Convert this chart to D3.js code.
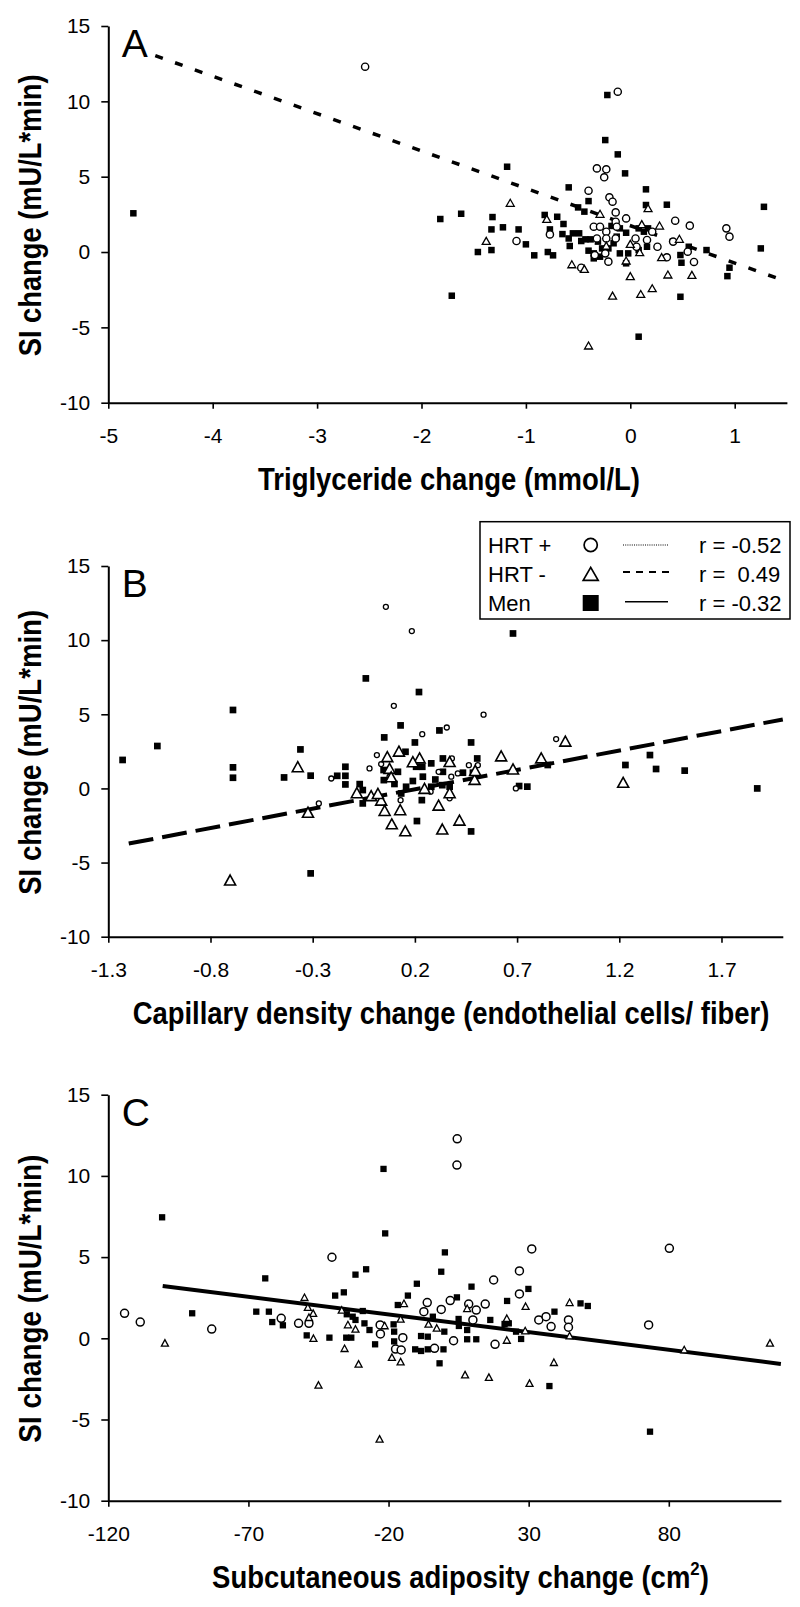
<!DOCTYPE html>
<html><head><meta charset="utf-8">
<script src="https://cdn.jsdelivr.net/npm/d3@7"></script>
<style>
body{margin:0;background:#fff}
svg{display:block}
text{font-family:"Liberation Sans",Arial,Helvetica,sans-serif;fill:#000}
</style>
</head><body>
<svg id="chart" width="800" height="1607"></svg>
<script>
// ---------------- DATA ----------------
const yTicks = [15, 10, 5, 0, -5, -10];
const aXTicks = [-5, -4, -3, -2, -1, 0, 1];
const bXTicks = [-1.3, -0.8, -0.3, 0.2, 0.7, 1.2, 1.7];
const cXTicks = [-120, -70, -20, 30, 80];

const yTitle = "SI change (mU/L*min)";
const aXTitle = "Triglyceride change (mmol/L)";
const bXTitle = "Capillary density change (endothelial cells/ fiber)";
const cXTitle = "Subcutaneous adiposity change (cm";

const legendLabels = ["HRT +", "HRT -", "Men"];
const legendR = ["r = -0.52", "r =\u00a0 0.49", "r = -0.32"];

// Panel A: triglyceride change vs SI change
const aMen = [[-4.76,2.57],[-1.82,2.19],[-1.62,2.54],[-1.71,-2.9],[-1.46,0.0],[-1.33,0.13],[-1.33,1.5],[-1.32,2.32],[-1.22,1.64],[-1.07,1.5],[-1.18,5.66],[-1.0,0.51],[-0.92,-0.22],[-0.82,2.46],[-0.79,0.0],[-0.74,-0.22],[-0.7,2.34],[-0.64,1.86],[-0.77,1.5],[-0.59,4.29],[-0.5,2.96],[-0.44,2.68],[-0.4,3.38],[-0.65,1.19],[-0.59,0.9],[-0.55,1.24],[-0.49,1.24],[-0.47,0.73],[-0.43,0.84],[-0.38,0.84],[-0.58,0.4],[-0.4,0.09],[-0.35,-0.09],[-0.31,0.69],[-0.27,0.24],[-0.18,1.73],[-0.16,0.58],[-0.13,1.02],[-0.1,1.57],[-0.04,1.28],[0.08,1.57],[0.13,1.35],[0.17,1.57],[0.16,0.35],[-0.02,-0.09],[0.08,0.13],[-0.1,-0.09],[-0.21,0.24],[-0.35,-0.42],[-0.29,-0.31],[-0.22,10.42],[-0.24,7.43],[-0.12,6.48],[-0.05,5.22],[0.15,4.16],[0.15,3.12],[0.35,3.14],[1.28,3.0],[0.56,0.35],[0.48,-0.2],[0.49,-0.71],[0.73,0.13],[0.95,-1.04],[0.93,-1.6],[1.25,0.24],[0.48,-2.97],[0.08,-5.62],[-0.04,-0.75]];
const aHrtPlus = [[-2.54,12.3],[-0.12,10.64],[-0.32,5.55],[-0.23,5.49],[-0.25,4.96],[-0.4,4.07],[-0.2,3.63],[-0.17,3.34],[-0.14,2.63],[-0.04,2.23],[-0.14,2.01],[0.43,2.08],[0.57,1.75],[0.92,1.57],[0.95,1.02],[-1.09,0.73],[-0.77,1.17],[-0.35,1.68],[-0.29,1.68],[-0.23,1.35],[-0.13,1.68],[0.05,0.9],[0.16,0.8],[0.21,1.35],[0.41,0.69],[0.26,0.35],[0.35,-0.35],[0.55,0.02],[0.61,-0.66],[-0.34,-0.2],[-0.24,-0.09],[-0.21,-0.64],[-0.47,-1.04],[-0.23,0.9],[-0.14,0.9],[-0.32,0.9],[0.06,0.35]];
const aHrtMinus = [[-1.15,3.19],[-1.38,0.66],[-0.8,2.12],[0.17,2.83],[-0.56,-0.89],[-0.44,-1.2],[-0.04,-0.64],[0.0,-1.68],[0.36,-1.57],[0.59,-1.59],[-0.17,-2.97],[0.1,-2.86],[0.21,-2.48],[-0.4,-6.28],[0.11,1.77],[0.28,1.68],[-0.29,2.46],[0.3,-0.42],[0.47,0.8],[0.09,-0.09],[-0.23,0.35],[0.0,0.46]];
const aFit = [[-4.55,13.03],[1.5,-1.97]];

// Panel B: capillary density change vs SI change
const bMen = [[-1.23,1.92],[-1.06,2.86],[-0.69,5.29],[-0.69,1.42],[-0.69,0.72],[-0.36,2.63],[-0.31,0.86],[-0.44,0.74],[-0.31,-5.73],[-0.04,7.42],[0.22,6.5],[0.68,10.45],[0.05,3.44],[0.13,4.25],[0.32,3.91],[0.2,3.1],[0.475,3.1],[0.505,2.02],[0.21,-2.2],[0.475,-2.9],[1.35,2.25],[1.23,1.58],[1.38,1.31],[1.52,1.2],[1.875,0.0],[0.71,0.16],[0.75,0.12],[0.85,1.58],[-0.18,0.85],[-0.14,1.46],[-0.14,0.85],[-0.14,0.27],[-0.07,0.29],[-0.055,-0.11],[-0.055,-1.01],[0.047,1.24],[0.048,0.56],[0.117,1.12],[0.154,2.47],[0.206,1.46],[0.236,1.46],[0.28,1.69],[0.337,2.02],[0.337,1.12],[0.239,0.79],[0.28,0.11],[0.334,0.22],[0.234,-0.79],[0.435,1.06],[0.484,1.06],[0.157,0.11],[0.133,-0.34],[0.37,0.11],[0.1,0.3],[0.19,0.5],[0.3,0.6]];
const bHrtPlus = [[0.058,12.25],[0.185,10.61],[0.097,5.57],[0.536,4.97],[0.356,4.11],[0.236,3.66],[0.891,3.33],[0.014,2.25],[-0.022,1.35],[-0.209,0.67],[-0.27,-1.01],[0.694,0.0],[0.076,0.79],[0.13,-0.79],[0.277,-0.22],[0.381,2.02],[0.464,1.57],[0.508,1.57],[0.37,-0.67],[0.41,1.01],[0.316,1.12],[0.378,0.79],[0.035,1.64]];
const bHrtMinus = [[-0.704,-6.29],[-0.373,1.35],[-0.323,-1.72],[-0.084,-0.4],[-0.014,-0.6],[0.035,-0.9],[0.052,-1.6],[0.087,-2.5],[0.128,-1.55],[0.153,-2.97],[0.316,-1.24],[0.334,-2.85],[0.418,-2.25],[0.622,2.08],[0.818,1.95],[0.68,1.2],[0.936,3.08],[1.219,0.3],[0.122,2.4],[0.223,1.95],[0.37,1.7],[0.37,-0.4],[0.492,0.5],[0.495,1.1],[0.076,1.24],[0.084,0.67],[0.19,1.69],[0.247,-0.11],[0.019,-0.45],[0.065,2.03]];
const bFit = [[-1.2,-3.72],[2.0,4.65]];

// Panel C: subcutaneous adiposity change vs SI change
const cMen = [[-100.8,7.45],[-21.8,10.43],[-21.2,6.46],[-90.07,1.54],[-64.0,3.69],[-67.2,1.64],[-62.7,1.64],[-61.5,1.0],[-57.7,0.8],[-49.2,0.18],[-41.1,0.04],[-39.05,2.63],[-35.96,2.83],[-31.8,3.92],[-28.0,4.25],[-34.9,1.48],[-32.8,1.33],[-31.8,1.13],[-29.2,1.68],[-28.6,0.92],[-26.8,0.51],[-35.1,0.04],[-33.3,0.04],[-24.8,-0.37],[-18.2,0.86],[-18.0,0.41],[-18.0,-0.19],[-16.7,2.05],[-13.1,2.63],[-9.9,3.36],[-10.5,-0.68],[-8.4,-0.78],[-6.0,-0.68],[-1.8,-1.54],[-1.2,4.1],[0.1,5.29],[-0.4,-0.68],[4.4,2.52],[5.0,1.19],[8.05,0.51],[8.05,-0.06],[11.3,-0.06],[9.6,3.18],[16.3,1.13],[22.3,2.3],[22.9,0.92],[27.3,-0.04],[29.9,3.04],[37.4,-2.94],[39.2,1.64],[48.5,2.15],[51.1,1.99],[25.5,0.41],[21.4,0.88],[-0.1,0.41],[-4.2,1.33],[-8.4,0.14],[-6.0,0.1],[5.1,0.76],[-22.0,0.76],[73.3,-5.75]];
const cHrtPlus = [[4.4,10.67],[4.5,12.28],[-114.2,1.54],[-108.6,1.0],[-83.1,0.57],[-40.2,4.99],[-58.3,1.23],[-52.1,0.92],[-48.4,0.92],[-23.0,0.82],[-22.9,0.27],[-17.5,-0.66],[-15.5,-0.72],[-14.9,0.04],[-6.2,2.2],[-7.4,1.64],[-1.2,1.78],[2.0,2.32],[3.2,-0.15],[-3.6,-0.62],[8.6,2.11],[10.1,1.13],[11.3,1.74],[14.5,2.11],[17.5,3.59],[18.0,-0.37],[26.7,4.15],[26.7,2.73],[31.1,5.5],[33.6,1.13],[36.2,1.33],[38.0,0.72],[44.2,1.13],[44.2,0.68],[80.2,5.54],[72.8,0.82]];
const cHrtMinus = [[-99.8,-0.35],[-50.0,2.46],[-48.8,1.85],[-46.9,1.48],[-48.4,1.23],[-46.8,-0.06],[-45.0,-2.94],[-35.7,-0.68],[-36.7,1.68],[-34.5,0.78],[-31.8,0.51],[-30.7,-1.64],[-18.8,-1.23],[-15.7,-1.5],[-15.7,1.13],[-14.5,2.09],[-21.4,0.72],[7.3,-2.3],[15.8,-2.46],[22.2,1.17],[22.2,-0.17],[28.9,1.91],[30.3,-2.83],[39.0,-1.54],[44.6,2.15],[44.6,0.1],[8.05,1.78],[-5.75,0.82],[-2.8,0.57],[28.75,0.41],[116.1,-0.35],[85.5,-0.76],[-23.2,-6.26]];
const cFit = [[-100.6,3.22],[120,-1.58]];

// ---------------- DRAW ----------------
const svg = d3.select("#chart");
const FONT = '"Liberation Sans",Arial,Helvetica,sans-serif';

function triPath(w, h) {
  return `M0,${-h*2/3}L${w/2},${h/3}L${-w/2},${h/3}Z`;
}

function fitText(g, textSel, target) {
  const w = textSel.node().getComputedTextLength();
  return target / w;
}

function panel(cfg) {
  const x = d3.scaleLinear().domain(cfg.xDomain).range(cfg.xRange);
  const y = d3.scaleLinear().domain([-10, 15]).range(cfg.yRange);
  const g = svg.append("g");

  // y axis
  const ya = g.append("g").attr("transform", `translate(${cfg.xRange[0]},0)`)
    .call(d3.axisLeft(y).tickValues(yTicks).tickSize(7).tickSizeOuter(0).tickPadding(11).tickFormat(d => String(d)));
  // x axis
  const xa = g.append("g").attr("transform", `translate(0,${cfg.yRange[0]})`)
    .call(d3.axisBottom(x).tickValues(cfg.xTicks).tickSize(6).tickSizeOuter(0).tickPadding(19).tickFormat(d => String(d)));
  [ya, xa].forEach(a => {
    a.select(".domain").attr("stroke", "#000").attr("stroke-width", 2);
    a.selectAll(".tick line").attr("stroke", "#000").attr("stroke-width", 1.6);
    a.selectAll(".tick text").attr("font-family", FONT).attr("font-size", 21).attr("fill", "#000");
  });

  // panel letter
  g.append("text").attr("x", cfg.xRange[0] + 13.5).attr("y", y(15) + 31)
    .attr("font-size", 39).text(cfg.letter);

  // regression line
  g.append("path")
    .attr("d", d3.line().x(d => x(d[0])).y(d => y(d[1]))(cfg.fit))
    .attr("fill", "none").attr("stroke", "#000")
    .attr("stroke-width", cfg.fitWidth).attr("stroke-dasharray", cfg.fitDash);

  // points
  const s = cfg.sym;
  g.append("g").selectAll("rect").data(cfg.men).join("rect")
    .attr("x", d => x(d[0]) - s.sq/2).attr("y", d => y(d[1]) - s.sq/2)
    .attr("width", s.sq).attr("height", s.sq).attr("fill", "#000");
  g.append("g").selectAll("circle").data(cfg.plus).join("circle")
    .attr("cx", d => x(d[0])).attr("cy", d => y(d[1])).attr("r", s.r)
    .attr("fill", "#fff").attr("stroke", "#000").attr("stroke-width", s.cw);
  g.append("g").selectAll("path").data(cfg.minus).join("path")
    .attr("transform", d => `translate(${x(d[0])},${y(d[1])})`)
    .attr("d", triPath(s.tw, s.th))
    .attr("fill", "#fff").attr("stroke", "#000").attr("stroke-width", s.tsw).attr("stroke-linejoin", "miter");

  // y title
  const yc = (y(15) + y(-10)) / 2;
  const ytg = g.append("g");
  const yt = ytg.append("text").attr("text-anchor", "middle").attr("font-weight", "bold")
    .attr("font-size", 31).text(yTitle);
  const ys = fitText(ytg, yt, cfg.yTitleLen);
  ytg.attr("transform", `translate(41,${yc + 1}) rotate(-90) scale(${ys},1)`);

  // x title
  const xtg = g.append("g");
  const xt = xtg.append("text").attr("text-anchor", "middle").attr("font-weight", "bold")
    .attr("font-size", 31);
  if (cfg.sup) {
    xt.append("tspan").text(cfg.xTitle);
    xt.append("tspan").attr("font-size", 19).attr("dy", -13).text("2");
    xt.append("tspan").attr("dy", 13).text(")");
  } else {
    xt.text(cfg.xTitle);
  }
  const xs = fitText(xtg, xt, cfg.xTitleLen);
  xtg.attr("transform", `translate(${cfg.xTitleCx},${y(-10) + 87.5}) scale(${xs},1)`);
}

panel({
  letter: "A", xDomain: [-5, 1.5], xRange: [108.3, 786.9], yRange: [402.7, 26],
  xTicks: aXTicks, men: aMen, plus: aHrtPlus, minus: aHrtMinus, fit: aFit,
  fitWidth: 3.5, fitDash: "8,13",
  sym: {sq: 6.5, r: 3.6, cw: 1.4, tw: 8, th: 7, tsw: 1.3},
  xTitle: aXTitle, xTitleLen: 382, xTitleCx: 449, yTitleLen: 282
});
panel({
  letter: "B", xDomain: [-1.3, 2.0], xRange: [108.3, 782.8], yRange: [936.7, 566],
  xTicks: bXTicks, men: bMen, plus: bHrtPlus, minus: bHrtMinus, fit: bFit,
  fitWidth: 4, fitDash: "25,9",
  sym: {sq: 6.7, r: 2.5, cw: 1.3, tw: 11, th: 10, tsw: 1.6},
  xTitle: bXTitle, xTitleLen: 637, xTitleCx: 451, yTitleLen: 285
});
panel({
  letter: "C", xDomain: [-120, 120], xRange: [108.3, 780.9], yRange: [1500.7, 1094.7],
  xTicks: cXTicks, men: cMen, plus: cHrtPlus, minus: cHrtMinus, fit: cFit,
  fitWidth: 4, fitDash: null,
  sym: {sq: 6.3, r: 4.0, cw: 1.5, tw: 7, th: 6.5, tsw: 1.3},
  xTitle: cXTitle, xTitleLen: 497, xTitleCx: 460.5, yTitleLen: 288, sup: true
});

// legend (panel B)
const lg = svg.append("g");
lg.append("rect").attr("x", 480).attr("y", 521.7).attr("width", 310).attr("height", 97.3)
  .attr("fill", "#fff").attr("stroke", "#000").attr("stroke-width", 1.5);
const rowBase = [552.7, 581.7, 610.5];
legendLabels.forEach((t, i) => {
  lg.append("text").attr("x", 488).attr("y", rowBase[i]).attr("font-size", 22).text(t);
  lg.append("text").attr("x", 699).attr("y", rowBase[i]).attr("font-size", 22).text(legendR[i]);
});
lg.append("circle").attr("cx", 590.7).attr("cy", 545).attr("r", 6.6)
  .attr("fill", "#fff").attr("stroke", "#000").attr("stroke-width", 1.7);
lg.append("path").attr("transform", "translate(590.7,576)").attr("d", triPath(15, 13))
  .attr("fill", "#fff").attr("stroke", "#000").attr("stroke-width", 1.7);
lg.append("rect").attr("x", 582.7).attr("y", 595).attr("width", 16).attr("height", 16).attr("fill", "#000");
lg.append("line").attr("x1", 623).attr("x2", 668).attr("y1", 545).attr("y2", 545)
  .attr("stroke", "#000").attr("stroke-width", 1.2).attr("stroke-dasharray", "1,1.2");
lg.append("line").attr("x1", 623).attr("x2", 669).attr("y1", 572).attr("y2", 572)
  .attr("stroke", "#000").attr("stroke-width", 2).attr("stroke-dasharray", "7,6");
lg.append("line").attr("x1", 625).attr("x2", 668).attr("y1", 601.7).attr("y2", 601.7)
  .attr("stroke", "#000").attr("stroke-width", 1.5);
</script>
</body></html>
